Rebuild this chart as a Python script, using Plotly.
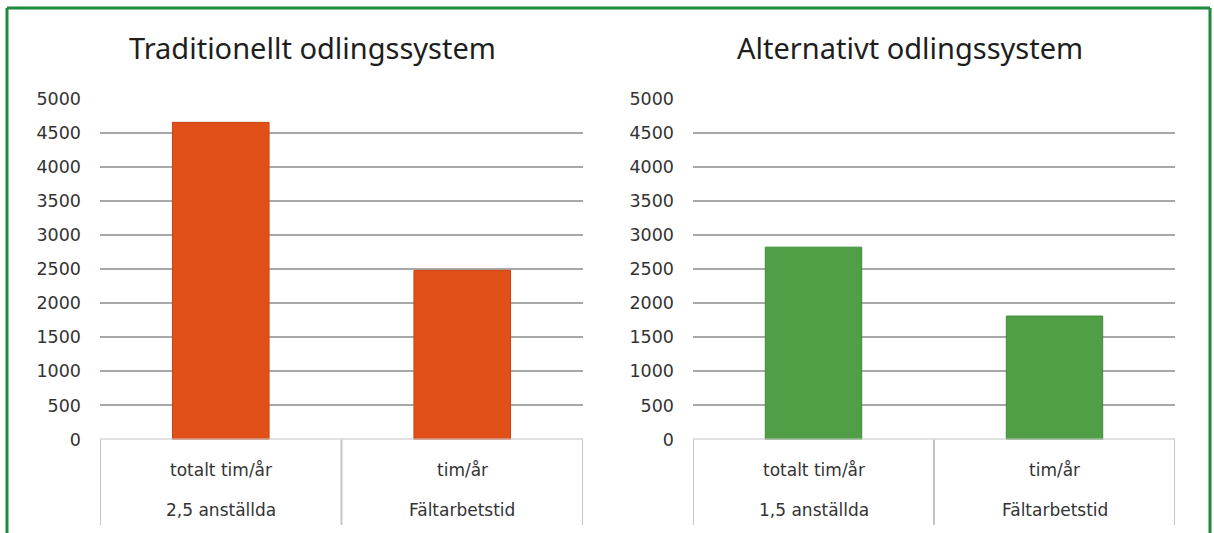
import plotly.graph_objects as go

# ---- data ----
categories = ["totalt tim/år", "tim/år"]
groups_trad = ["2,5 anställda", "Fältarbetstid"]
groups_alt = ["1,5 anställda", "Fältarbetstid"]
hours_trad = [4650, 2480]
hours_alt = [2820, 1810]
y_ticks = [0, 500, 1000, 1500, 2000, 2500, 3000, 3500, 4000, 4500, 5000]
titles = ["Traditionellt odlingssystem", "Alternativt odlingssystem"]

W, H = 1214, 533


def px(x):
    return x / W


def py(y):
    return 1 - y / H


fig = go.Figure()
fig.add_trace(go.Bar(
    x=categories, y=hours_trad, xaxis="x", yaxis="y", width=0.4,
    marker=dict(color="#e2501a", line=dict(color="#cc4010", width=1)),
    hoverinfo="x+y",
))
fig.add_trace(go.Bar(
    x=categories, y=hours_alt, xaxis="x2", yaxis="y2", width=0.4,
    marker=dict(color="#509f46", line=dict(color="#3e8a37", width=1)),
    hoverinfo="x+y",
))

ydom = [py(439.5), py(98.5)]
tickfont = dict(family="DejaVu Sans", size=17.5, color="#333333")
common_x = dict(type="category", range=[-0.5, 1.5], showticklabels=False,
                showgrid=False, zeroline=False, showline=False, fixedrange=True,
                automargin=False)
common_y = dict(domain=ydom, range=[0, 5000], tickvals=y_ticks, tickfont=tickfont,
                showgrid=True, gridcolor="#a8a8a8", gridwidth=1.5, zeroline=False,
                showline=False, ticks="", ticklabelstandoff=18, fixedrange=True,
                automargin=False)

fig.update_layout(
    width=W, height=H, autosize=False,
    margin=dict(l=0, r=0, t=0, b=0, pad=0, autoexpand=False),
    paper_bgcolor="white", plot_bgcolor="white",
    showlegend=False,
    xaxis=dict(domain=[px(100), px(583)], anchor="y", **common_x),
    yaxis=dict(anchor="x", **common_y),
    xaxis2=dict(domain=[px(693), px(1175)], anchor="y2", **common_x),
    yaxis2=dict(anchor="x2", **common_y),
)

shapes = []
annotations = []
catfont = dict(family="DejaVu Sans", size=17, color="#333333")
for xr, yr, groups in (("x", "y", groups_trad), ("x2", "y2", groups_alt)):
    # box top line at 0
    shapes.append(dict(type="line", xref=xr, yref=yr, x0=-0.5, x1=1.5, y0=0, y1=0,
                       line=dict(color="#c4c4c4", width=2)))
    for xv in (-0.5, 0.5, 1.5):
        shapes.append(dict(type="line", xref=xr, yref="paper", x0=xv, x1=xv,
                           y0=py(525), y1=py(439.5),
                           line=dict(color="#c4c4c4", width=2)))
    for i, cat in enumerate(categories):
        annotations.append(dict(x=i, y=py(470), xref=xr, yref="paper", text=cat,
                                showarrow=False, yanchor="middle", font=catfont))
        annotations.append(dict(x=i, y=py(510), xref=xr, yref="paper", text=groups[i],
                                showarrow=False, yanchor="middle", font=catfont))

for tx, title in zip((312, 910), titles):
    annotations.append(dict(x=px(tx), y=py(48), xref="paper", yref="paper", text=title,
                            showarrow=False, xanchor="center", yanchor="middle",
                            font=dict(family="Noto Sans", size=29, color="#1e1e1e")))

# green frame
g = dict(color="#1f8a3c", width=3)
shapes.append(dict(type="line", xref="paper", yref="paper", x0=px(7), x1=px(1210),
                   y0=py(8), y1=py(8), line=g))
shapes.append(dict(type="line", xref="paper", yref="paper", x0=px(7), x1=px(7),
                   y0=py(8), y1=py(545), line=g))
shapes.append(dict(type="line", xref="paper", yref="paper", x0=px(1210), x1=px(1210),
                   y0=py(8), y1=py(545), line=g))

fig.update_layout(shapes=shapes, annotations=annotations)
fig.write_html(
    "out.html",
    config={"displayModeBar": False},
    post_script=(
        "var gd=document.getElementById('{plot_id}');"
        "gd.style.position='fixed';gd.style.top='0px';gd.style.left='0px';"
        "document.body.style.margin='0';"
        "document.body.style.overflow='hidden';"
        "document.documentElement.style.overflow='hidden';"
    ),
)
